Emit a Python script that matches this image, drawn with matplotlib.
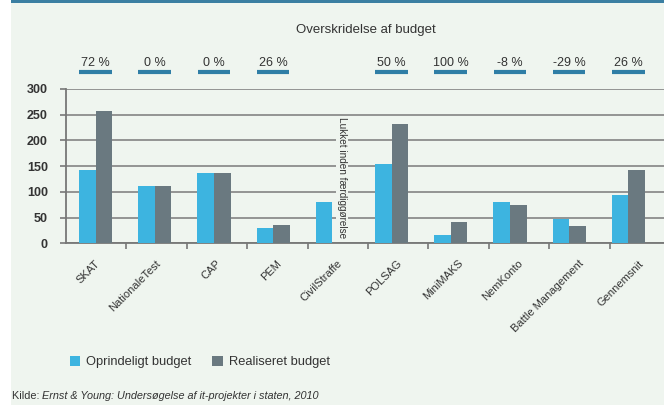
import numpy as np
import matplotlib
matplotlib.use('Agg')
import matplotlib.pyplot as plt
import matplotlib.transforms as mtransforms
from matplotlib.patches import Rectangle, Patch

projects = ['SKAT', 'NationaleTest', 'CAP', 'PEM', 'CivilStraffe', 'POLSAG',
            'MiniMAKS', 'NemKonto', 'Battle Management', 'Gennemsnit']
oprindeligt = [143, 112, 137, 29, 81, 155, 16, 80, 47, 94]
realiseret = [257, 112, 137, 36, 0, 232, 42, 75, 34, 142]
overskridelse = ['72 %', '0 %', '0 %', '26 %', '', '50 %', '100 %', '-8 %', '-29 %', '26 %']
note_text = 'Lukket inden færdiggørelse'

plt.rcParams['font.family'] = ['Liberation Sans Narrow', 'Liberation Sans', 'DejaVu Sans']

BG = '#eff5ef'
BLUE = '#3db4e0'
GRAY = '#6a7980'
TEAL = '#2f7ea6'
TXT = '#333333'

fig = plt.figure(figsize=(6.64, 4.05), dpi=100, facecolor=BG)
fig.patches.append(Rectangle((0, 0), 11 / 664, 1, transform=fig.transFigure,
                             facecolor='white', edgecolor='none', zorder=0))
fig.patches.append(Rectangle((11 / 664, 1 - 2.5 / 405), 1, 2.5 / 405, transform=fig.transFigure,
                             facecolor='#3b7fa2', edgecolor='none', zorder=1))

ax = fig.add_axes([66 / 664, 161.7 / 405, 604 / 664, 154.3 / 405])
ax.set_facecolor(BG)

x = np.arange(len(projects))
# bars drift slightly left of the category ticks in the original
bx = x * 0.98 - 0.01
w = 0.275
ax.bar(bx - w / 2, oprindeligt, w, color=BLUE, zorder=3)
ax.bar(bx + w / 2, realiseret, w, color=GRAY, zorder=3)

ax.set_xlim(-0.5, len(projects) - 0.5)
ax.set_ylim(0, 300)
ax.set_yticks(range(0, 301, 50))
ax.yaxis.grid(True, color='#8c8c8c', lw=1.3, zorder=1)
ax.set_axisbelow(True)
for s in ['top', 'right']:
    ax.spines[s].set_visible(False)
ax.spines['left'].set_color('#777777')
ax.spines['bottom'].set_color('#777777')
ax.spines['left'].set_linewidth(1.3)
ax.spines['bottom'].set_linewidth(1.3)
ax.tick_params(axis='y', length=4, width=1.2, color='#777777', pad=9,
               labelsize=9, labelcolor=TXT)
for t in ax.get_yticklabels():
    t.set_fontweight('bold')

ax.set_xticks(x[:-1] + 0.5)
ax.set_xticklabels([])
ax.tick_params(axis='x', length=4, width=1.2, color='#777777')

tr = mtransforms.blended_transform_factory(ax.transData, ax.transAxes)
for i, name in enumerate(projects):
    ax.text(i + 0.04, -0.12, name, transform=tr, rotation=45, rotation_mode='anchor',
            ha='right', va='center', fontsize=8, color=TXT)

for i, lab in enumerate(overskridelse):
    if not lab:
        continue
    ax.text(bx[i], 1.17, lab, transform=tr, ha='center', va='center',
            fontsize=9, color=TXT)
    ax.plot([bx[i] - 0.27, bx[i] + 0.27], [1.11, 1.11], transform=tr,
            color=TEAL, lw=3, solid_capstyle='butt', clip_on=False)

ax.text(4.07, 128, note_text, rotation=-90, ha='center', va='center',
        fontsize=7.2, color=TXT, zorder=4,
        bbox=dict(facecolor=BG, edgecolor='none', pad=0.5))

fig.text(0.551, 1 - 30 / 405, 'Overskridelse af budget', ha='center', va='center',
         fontsize=9.5, color=TXT)

handles = [Patch(facecolor=BLUE), Patch(facecolor=GRAY)]
fig.legend(handles, ['Oprindeligt budget', 'Realiseret budget'], loc='center left',
           bbox_to_anchor=(58 / 664, 1 - 362 / 405), ncol=2, frameon=False,
           handlelength=0.8, handleheight=0.8, handletextpad=0.5, columnspacing=1.6,
           fontsize=9.3, labelcolor=TXT)

renderer = fig.canvas.get_renderer()
t1 = fig.text(12 / 664, 1 - 396 / 405, 'Kilde: ', ha='left', va='center',
              fontsize=7.8, color=TXT)
bb = t1.get_window_extent(renderer=renderer)
fig.text(bb.x1 / fig.bbox.width, 1 - 396 / 405,
         'Ernst & Young: Undersøgelse af it-projekter i staten, 2010',
         ha='left', va='center', fontsize=7.8, color=TXT, style='italic')

fig.savefig('out.png', dpi=100, facecolor=BG)
plt.close(fig)
